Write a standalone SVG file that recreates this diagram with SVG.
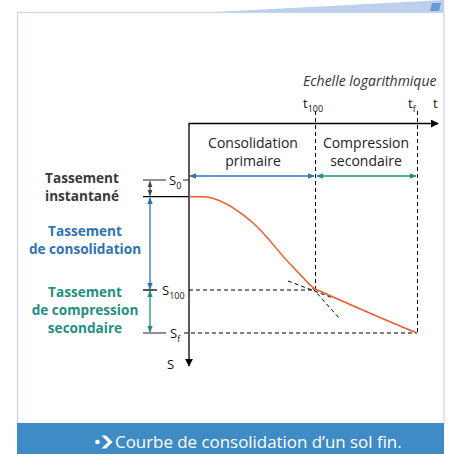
<svg xmlns="http://www.w3.org/2000/svg" width="449" height="454" viewBox="0 0 449 454">
<defs>
<style>
.lbl{font-family:"Open Sans","Noto Sans",sans-serif;}
.bold{font-family:"Open Sans","Noto Sans",sans-serif;font-weight:bold;font-size:13.6px;text-anchor:middle;}
.ax{stroke:#000;stroke-width:1.3;fill:none;}
.dash{stroke:#000;stroke-width:1;stroke-dasharray:4,3;fill:none;}
.gray{stroke:#555;stroke-width:1.3;fill:none;}
</style>
<marker id="ah" viewBox="0 0 10 10" refX="9" refY="5" markerWidth="8" markerHeight="8" markerUnits="userSpaceOnUse" orient="auto"><path d="M0,0L10,5L0,10z" fill="#000"/></marker>
<marker id="bl" viewBox="0 0 10 10" refX="9" refY="5" markerWidth="7" markerHeight="7" markerUnits="userSpaceOnUse" orient="auto-start-reverse"><path d="M0,1L10,5L0,9z" fill="#2e73b3"/></marker>
<marker id="tl" viewBox="0 0 10 10" refX="9" refY="5" markerWidth="7" markerHeight="7" markerUnits="userSpaceOnUse" orient="auto-start-reverse"><path d="M0,1L10,5L0,9z" fill="#1f9080"/></marker>
<marker id="gr" viewBox="0 0 10 10" refX="9" refY="5" markerWidth="6" markerHeight="6" markerUnits="userSpaceOnUse" orient="auto-start-reverse"><path d="M0,1L10,5L0,9z" fill="#444"/></marker>
</defs>
<rect width="449" height="454" fill="#fff"/>
<g id="frame">
<path d="M215,12 L444,0 L444,12 Z" fill="#bccfec"/>
<path d="M432,3 L441,3 L439,11 L430,11 Z" fill="#6a9bd4"/>
<rect x="17.5" y="12.5" width="426.5" height="411" fill="#fff" stroke="#c6d6ef" stroke-width="1.2"/>
<rect x="17" y="423" width="427" height="31" fill="#3f8bc5"/>
<circle cx="97.5" cy="442" r="2.3" fill="#fff"/>
<path d="M101.5,435.5 L106,435.5 L112.5,442 L106,448.5 L101.5,448.5 L108,442 Z" fill="#fff"/>
<text class="lbl" x="115" y="448" font-size="16.9" fill="#fff">Courbe de consolidation d’un sol fin.</text>
</g>
<g id="connectors">
<line class="ax" x1="189" y1="123.5" x2="189" y2="366" marker-end="url(#ah)"/>
<line class="ax" x1="188.5" y1="123.5" x2="438" y2="123.5" marker-end="url(#ah)"/>
<line class="dash" x1="315.5" y1="111" x2="315.5" y2="289"/>
<line class="dash" x1="417.5" y1="111" x2="417.5" y2="333"/>
<line class="dash" x1="189" y1="290" x2="315" y2="290"/>
<line class="dash" x1="184" y1="333" x2="417" y2="333" stroke="#555"/>
<line class="dash" x1="288" y1="281" x2="333" y2="298"/>
<line class="dash" x1="308" y1="283" x2="339" y2="318"/>
<path d="M189,196.7 L203,196.7 C215,197 232,205 252,222 C268,236 278,252 292,266 C300,274 307,283 315,289 C340,300 380,318 417,333" fill="none" stroke="#f05a28" stroke-width="1.5"/>
<line x1="190" y1="176" x2="314" y2="176" stroke="#2e73b3" stroke-width="1.3" marker-start="url(#bl)" marker-end="url(#bl)"/>
<line x1="317" y1="176" x2="416" y2="176" stroke="#1f9080" stroke-width="1.3" marker-start="url(#tl)" marker-end="url(#tl)"/>
<line class="gray" x1="143" y1="180" x2="166" y2="180"/>
<line class="gray" x1="183" y1="180" x2="189" y2="180"/>
<line class="ax" x1="143" y1="196.7" x2="189" y2="196.7"/>
<line x1="150" y1="181.5" x2="150" y2="195.5" stroke="#444" stroke-width="1.2" marker-start="url(#gr)" marker-end="url(#gr)"/>
<line x1="150" y1="198" x2="150" y2="289" stroke="#2e73b3" stroke-width="1.3" marker-start="url(#bl)" marker-end="url(#bl)"/>
<line class="ax" x1="143" y1="290" x2="157" y2="290"/>
<line x1="150" y1="291" x2="150" y2="332" stroke="#1f9080" stroke-width="1.3" marker-start="url(#tl)" marker-end="url(#tl)"/>
<line class="gray" x1="143" y1="333" x2="166" y2="333"/>
</g>
<g id="axis-labels" class="lbl" fill="#111">
<text x="303" y="86" font-size="14" font-style="italic" fill="#333">Echelle logarithmique</text>
<text x="303" y="108" font-size="13">t<tspan font-size="9" dy="4">100</tspan></text>
<text x="408" y="108" font-size="13">t<tspan font-size="9" dy="4">f</tspan></text>
<text x="433" y="108" font-size="13">t</text>
<text x="169" y="185" font-size="13">S<tspan font-size="9" dy="4">0</tspan></text>
<text x="162" y="295" font-size="13">S<tspan font-size="9" dy="4">100</tspan></text>
<text x="170" y="338" font-size="13">S<tspan font-size="9" dy="4">f</tspan></text>
<text x="167" y="369" font-size="13">S</text>
</g>
<g id="phase-primaire">
<text class="lbl" x="253" y="148" font-size="14" text-anchor="middle" fill="#222">Consolidation</text>
<text class="lbl" x="253" y="166" font-size="14" text-anchor="middle" fill="#222">primaire</text>
</g>
<g id="phase-secondaire">
<text class="lbl" x="366" y="148" font-size="14" text-anchor="middle" fill="#222">Compression</text>
<text class="lbl" x="366" y="166" font-size="14" text-anchor="middle" fill="#222">secondaire</text>
</g>
<g id="tassement-instantane">
<text class="bold" x="82" y="183" fill="#3a3a3a">Tassement</text>
<text class="bold" x="82" y="201" fill="#3a3a3a">instantané</text>
</g>
<g id="tassement-consolidation">
<text class="bold" x="85" y="235.5" fill="#2e73b3">Tassement</text>
<text class="bold" x="85" y="253.5" fill="#2e73b3">de consolidation</text>
</g>
<g id="tassement-secondaire">
<text class="bold" x="85" y="297" fill="#1f9080">Tassement</text>
<text class="bold" x="85" y="315" fill="#1f9080">de compression</text>
<text class="bold" x="85" y="333" fill="#1f9080">secondaire</text>
</g>
</svg>
